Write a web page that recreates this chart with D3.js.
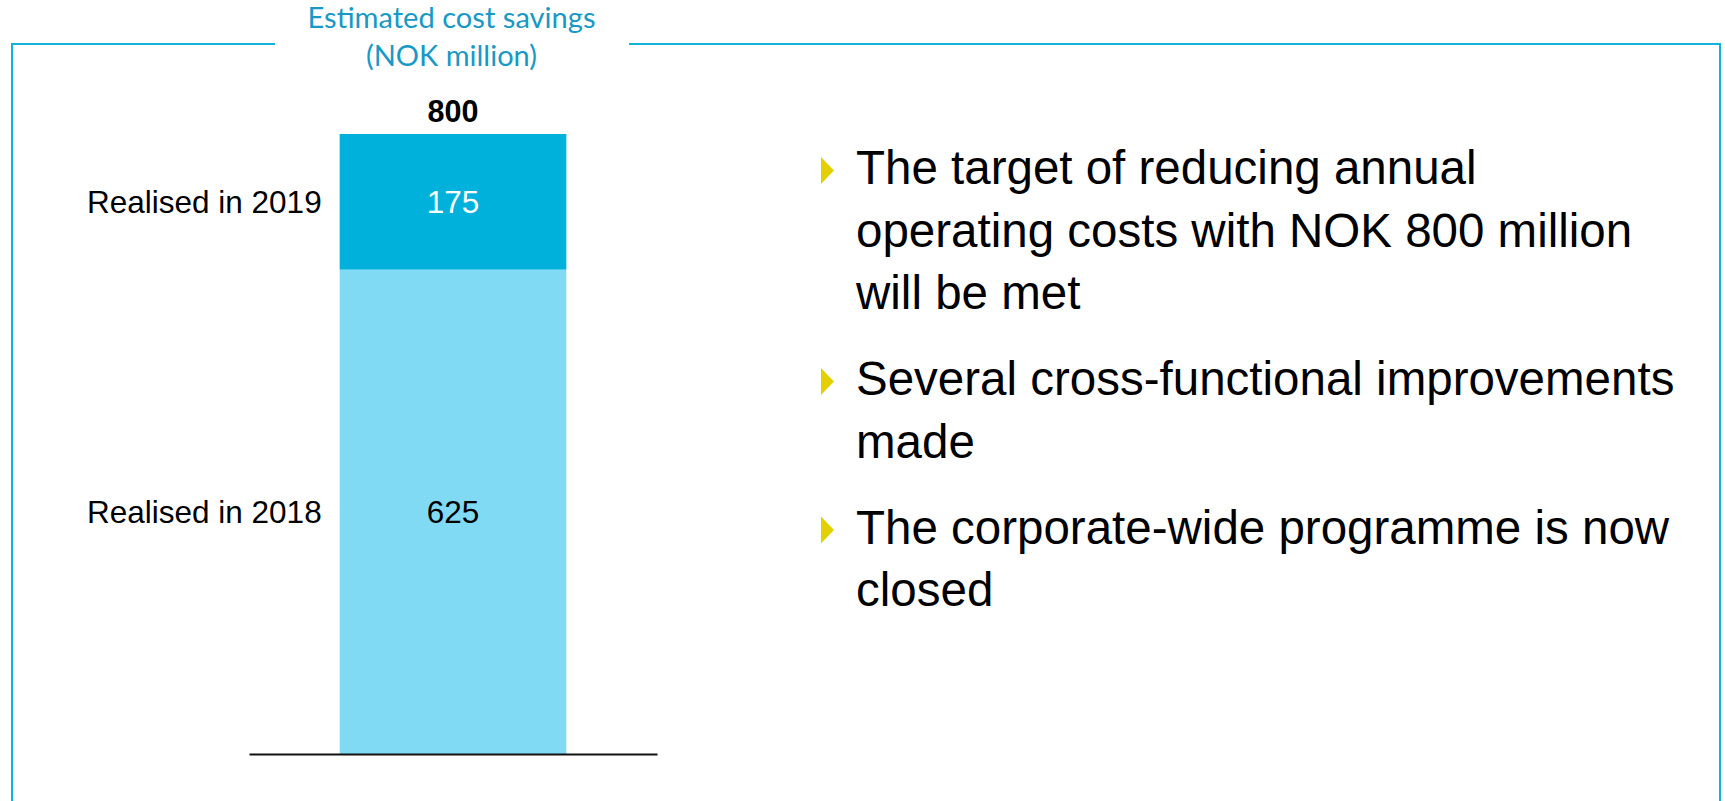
<!DOCTYPE html>
<html>
<head>
<meta charset="utf-8">
<script src="https://cdn.jsdelivr.net/npm/d3@7"></script>
<style>
  html, body { margin: 0; padding: 0; background: #ffffff; }
  svg { display: block; }
</style>
</head>
<body>
<svg id="chart" width="1725" height="801"></svg>
<script>
// Cost savings programme: one stacked column plus commentary bullets
const categories = ["Estimated cost savings"];
const seriesKeys = ["Realised in 2018", "Realised in 2019"];
const values2018 = [625];
const values2019 = [175];
const totals = [800];
const titleLines = ["Estimated cost savings", "(NOK million)"];
const bullets = [
  ["The target of reducing annual", "operating costs with NOK 800 million", "will be met"],
  ["Several cross-functional improvements", "made"],
  ["The corporate-wide programme is now", "closed"]
];

const svg = d3.select("#chart");
const W = 1725, H = 801;

const colors = { "Realised in 2018": "#80daf3", "Realised in 2019": "#00b1dc" };
const labelColors = { "Realised in 2018": "#000000", "Realised in 2019": "#ffffff" };
const frameColor = "#0fb3dc";
const titleColor = "#1899c5";
const bulletColor = "#e3d000";

// Frame with a gap for the heading
svg.append("path")
  .attr("d", "M275,44 H12 V812 M629,44 H1720 V812")
  .attr("fill", "none")
  .attr("stroke", frameColor)
  .attr("stroke-width", 2);

// Heading
const titleBase = [27.5, 65.5];
const titleWidths = [288, 171];
svg.append("g").selectAll("text")
  .data(titleLines)
  .join("text")
  .attr("x", 451.5)
  .attr("y", (d, i) => titleBase[i])
  .attr("text-anchor", "middle")
  .attr("font-family", "Lato, 'Open Sans', sans-serif")
  .attr("font-size", 28.5)
  .attr("fill", titleColor)
  .attr("textLength", (d, i) => titleWidths[i])
  .attr("lengthAdjust", "spacingAndGlyphs")
  .text(d => d);

// Scales
const x = d3.scaleBand()
  .domain(categories)
  .range([249, 657])
  .paddingInner(0)
  .paddingOuter(0.4);

const y = d3.scaleLinear()
  .domain([0, 800])
  .range([754, 134]);

// Stacked data
const rows = categories.map((c, i) => ({
  category: c,
  "Realised in 2018": values2018[i],
  "Realised in 2019": values2019[i]
}));
const stacked = d3.stack().keys(seriesKeys)(rows);

const layers = svg.append("g").selectAll("g")
  .data(stacked)
  .join("g")
  .attr("fill", d => colors[d.key]);

layers.selectAll("rect")
  .data(d => d.map(p => ({ key: d.key, p })))
  .join("rect")
  .attr("x", d => x(d.p.data.category))
  .attr("width", x.bandwidth())
  .attr("y", d => y(d.p[1]))
  .attr("height", d => y(d.p[0]) - y(d.p[1]));

// Segment value labels
const fontArial = "'Liberation Sans', Arial, sans-serif";
layers.selectAll("text.val")
  .data(d => d.map(p => ({ key: d.key, p })))
  .join("text")
  .attr("class", "val")
  .attr("x", d => x(d.p.data.category) + x.bandwidth() / 2)
  .attr("y", d => (y(d.p[0]) + y(d.p[1])) / 2 + 11.3)
  .attr("text-anchor", "middle")
  .attr("font-family", fontArial)
  .attr("font-size", 31.5)
  .attr("fill", d => labelColors[d.key])
  .text(d => d.p[1] - d.p[0]);

// Series labels to the left of the column
svg.append("g").selectAll("text")
  .data(stacked)
  .join("text")
  .attr("x", x(categories[0]) - 18)
  .attr("y", d => (y(d[0][0]) + y(d[0][1])) / 2 + 11.3)
  .attr("text-anchor", "end")
  .attr("font-family", fontArial)
  .attr("font-size", 31.5)
  .attr("fill", "#000")
  .text(d => d.key);

// Total above the column
svg.append("g").selectAll("text")
  .data(categories)
  .join("text")
  .attr("x", d => x(d) + x.bandwidth() / 2)
  .attr("y", (d, i) => y(totals[i]) - 12.3)
  .attr("text-anchor", "middle")
  .attr("font-family", fontArial)
  .attr("font-weight", "bold")
  .attr("font-size", 30.5)
  .attr("fill", "#000")
  .text((d, i) => totals[i]);

// Baseline
const xAxis = d3.axisBottom(x).tickSize(0).tickFormat("");
const axisG = svg.append("g")
  .attr("transform", `translate(0,${y(0)})`)
  .call(xAxis);
axisG.select(".domain").attr("stroke", "#111").attr("stroke-width", 2);

// Commentary bullets
const textX = 856;
const lineH = 62.5, paraGap = 23.5;
let base = 184;
const bulletG = svg.append("g");
bullets.forEach(lines => {
  bulletG.append("path")
    .attr("d", `M821,${base - 27} L834,${base - 13.5} L821,${base} Z`)
    .attr("fill", bulletColor);
  lines.forEach((ln, j) => {
    bulletG.append("text")
      .attr("x", textX)
      .attr("y", base + j * lineH)
      .attr("font-family", fontArial)
      .attr("font-size", 47.5)
      .attr("fill", "#000")
      .text(ln);
  });
  base += lines.length * lineH + paraGap;
});
</script>
</body>
</html>
